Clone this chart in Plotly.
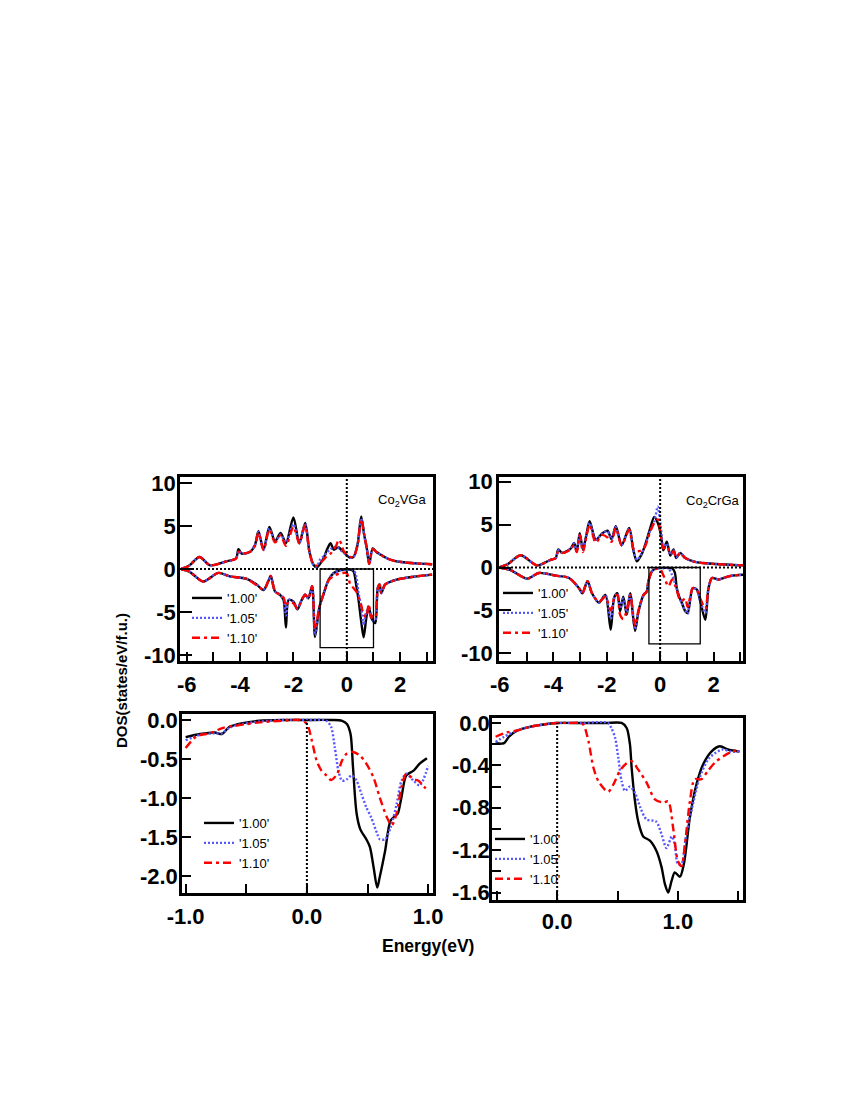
import plotly.graph_objects as go

# ---------------- data ----------------
series_names = ["'1.00'", "'1.05'", "'1.10'"]

# Co2VGa (top-left) spin up
tl_up_x = [-6.2, -5.9, -5.52, -5.12, -4.5, -4.15, -4.06, -3.94, -3.62, -3.44, -3.31, -3.12, -2.9, -2.69,
           -2.48, -2.28, -2.0, -1.78, -1.56, -1.4, -1.25, -1.12, -1.0, -0.86, -0.75, -0.61, -0.49, -0.4,
           -0.3, -0.2, -0.12, 0.0, 0.13, 0.25, 0.4, 0.54, 0.65, 0.75, 0.84, 0.97, 1.1, 1.25, 1.5, 1.75,
           2.2, 2.6, 3.2]
tl_up_100 = [0.0, 0.4, 1.4, 0.43, 0.9, 1.25, 2.3, 1.8, 2.0, 2.8, 4.4, 2.25, 4.9, 3.2,
             4.2, 3.0, 6.0, 3.0, 5.35, 2.0, 0.5, 0.2, 0.6, 1.3, 2.2, 3.0, 2.25, 2.4,
             2.5, 2.2, 2.0, 1.6, 1.3, 1.4, 2.8, 6.1, 4.0, 2.4, 0.58, 2.4, 2.0, 1.7, 1.25, 0.97,
             0.75, 0.65, 0.55]
tl_up_105 = [0.0, 0.4, 1.4, 0.43, 0.9, 1.2, 2.1, 1.8, 2.0, 2.8, 4.3, 2.25, 4.7, 3.2,
             4.0, 3.1, 5.2, 3.0, 5.3, 2.0, 0.5, 0.3, 1.1, 1.5, 1.9, 2.3, 2.5, 2.6,
             2.4, 2.1, 1.9, 1.6, 1.3, 1.4, 2.8, 5.9, 4.0, 2.4, 0.6, 2.3, 2.0, 1.7, 1.25, 0.97,
             0.75, 0.65, 0.55]
tl_up_110 = [0.0, 0.4, 1.4, 0.43, 0.9, 1.2, 2.0, 1.8, 2.0, 2.7, 4.2, 2.2, 4.6, 3.1,
             3.9, 2.7, 4.9, 3.0, 5.1, 2.0, 0.5, 0.4, 0.7, 1.1, 1.5, 1.8, 2.25, 2.7,
             3.4, 2.9, 2.1, 1.7, 1.4, 1.4, 2.7, 5.8, 4.0, 2.4, 0.6, 2.3, 2.0, 1.7, 1.25, 0.97,
             0.75, 0.65, 0.55]

# Co2VGa (top-left) spin down
tl_dn_x = [-6.2, -5.9, -5.38, -4.81, -4.38, -3.75, -3.38, -3.12, -2.94, -2.85, -2.69, -2.5, -2.37, -2.28,
           -2.18, -2.0, -1.85, -1.69, -1.56, -1.44, -1.3, -1.19, -1.03, -0.86, -0.68, -0.49, -0.24, 0.0,
           0.13, 0.25, 0.35, 0.44, 0.54, 0.63, 0.73, 0.82, 0.92, 1.0, 1.07, 1.16, 1.23, 1.29, 1.44, 1.87,
           2.5, 3.2]
tl_dn_100 = [-0.05, -0.3, -1.45, -0.45, -0.85, -1.15, -1.8, -2.45, -1.4, -0.8, -2.6, -3.0, -3.6, -6.8,
             -3.6, -3.8, -4.7, -3.6, -3.0, -3.4, -2.0, -7.9, -4.5, -2.8, -1.25, -0.47, -0.12, -0.05,
             -0.08, -0.27, -1.8, -3.6, -6.1, -7.95, -5.7, -4.35, -5.7, -6.1, -6.3, -2.2, -1.8, -2.8, -1.8, -1.24,
             -0.9, -0.65]
tl_dn_105 = [-0.05, -0.3, -1.45, -0.45, -0.85, -1.15, -1.8, -2.4, -1.4, -0.8, -2.6, -3.0, -3.5, -5.4,
             -3.6, -3.8, -4.6, -3.6, -3.0, -3.4, -2.0, -7.7, -4.5, -2.8, -1.25, -0.5, -0.15, -0.05,
             -0.08, -0.1, -0.8, -2.8, -4.4, -6.5, -5.0, -4.6, -5.7, -6.0, -6.0, -2.2, -1.8, -2.8, -1.8, -1.24,
             -0.9, -0.65]
tl_dn_110 = [-0.05, -0.3, -1.45, -0.45, -0.85, -1.15, -1.9, -2.4, -1.4, -0.8, -2.6, -3.0, -3.3, -4.3,
             -3.8, -4.0, -4.6, -3.6, -3.0, -3.4, -2.0, -7.0, -4.5, -2.8, -1.3, -0.8, -0.5, -0.5,
             -1.8, -2.2, -2.6, -3.2, -4.2, -5.3, -5.6, -4.1, -5.7, -5.3, -5.5, -2.3, -1.8, -2.8, -1.8, -1.24,
             -0.9, -0.65]

# Co2CrGa (top-right) spin up
tr_up_x = [-6.03, -5.7, -5.22, -4.6, -4.1, -3.91, -3.81, -3.66, -3.35, -3.22, -3.12, -3.01, -2.89, -2.76,
           -2.64, -2.41, -2.16, -1.97, -1.82, -1.66, -1.44, -1.16, -1.0, -0.87, -0.7, -0.56, -0.37, -0.22,
           -0.09, 0.03, 0.12, 0.25, 0.38, 0.5, 0.6, 0.75, 0.94, 1.31, 2.06, 3.1]
tr_up_100 = [0.0, 0.4, 1.42, 0.25, 0.9, 1.1, 2.1, 1.7, 2.2, 2.85, 1.9, 4.0, 2.1, 3.8,
             5.4, 3.25, 4.0, 4.3, 3.3, 4.8, 2.6, 4.6, 2.0, 0.72, 1.5, 2.66, 4.6, 5.9,
             5.2, 3.8, 2.0, 3.0, 1.4, 2.1, 1.1, 1.7, 1.1, 0.65, 0.41, 0.25]
tr_up_105 = [0.0, 0.4, 1.42, 0.25, 0.9, 1.1, 2.0, 1.7, 2.2, 2.8, 1.9, 3.9, 2.1, 3.8,
             5.2, 3.25, 4.0, 4.2, 3.3, 4.7, 2.6, 4.5, 2.0, 0.9, 1.6, 2.6, 4.3, 5.3,
             7.1, 4.5, 2.3, 2.8, 1.5, 2.0, 1.2, 1.7, 1.1, 0.65, 0.41, 0.25]
tr_up_110 = [0.0, 0.4, 1.42, 0.25, 0.9, 1.1, 1.9, 1.7, 2.1, 2.6, 1.8, 3.8, 1.8, 3.6,
             5.0, 2.9, 3.8, 3.5, 3.0, 4.6, 2.6, 4.4, 2.2, 1.9, 2.0, 2.5, 4.2, 5.2,
             5.6, 3.6, 2.2, 2.5, 1.6, 1.9, 1.2, 1.7, 1.1, 0.65, 0.41, 0.25]

# Co2CrGa (top-right) spin down
tr_dn_x = [-6.03, -5.6, -4.97, -4.54, -3.91, -3.41, -3.04, -2.91, -2.72, -2.55, -2.29, -2.05, -1.85, -1.72,
           -1.6, -1.5, -1.38, -1.25, -1.12, -0.94, -0.81, -0.62, -0.5, -0.44, -0.31, -0.15, 0.0, 0.12,
           0.31, 0.45, 0.55, 0.62, 0.7, 0.81, 0.94, 1.03, 1.22, 1.38, 1.5, 1.69, 1.81, 1.94, 2.19, 2.6, 3.1]
tr_dn_100 = [0.0, -0.3, -1.3, -0.64, -0.95, -1.22, -2.4, -3.0, -1.6, -3.0, -4.1, -3.2, -7.25, -3.5,
             -3.0, -5.1, -3.4, -5.5, -3.0, -7.4, -5.1, -3.2, -2.8, -1.6, -0.45, -0.1, -0.05, -0.05,
             -0.05, -0.1, -0.6, -2.4, -3.3, -4.1, -5.1, -5.3, -2.4, -2.6, -3.9, -6.1, -2.4, -1.22, -1.4, -1.0, -0.85]
tr_dn_105 = [0.0, -0.3, -1.3, -0.64, -0.95, -1.22, -2.4, -3.0, -1.6, -3.0, -4.1, -3.2, -6.0, -3.5,
             -3.0, -4.8, -3.6, -5.2, -3.0, -7.2, -5.1, -3.2, -2.8, -1.6, -0.45, -0.1, -0.05, -0.05,
             -0.1, -0.9, -1.8, -2.5, -3.3, -4.2, -5.0, -5.4, -2.4, -2.6, -3.9, -5.3, -2.4, -1.22, -1.4, -1.0, -0.85]
tr_dn_110 = [0.0, -0.3, -1.3, -0.64, -0.95, -1.22, -2.4, -3.0, -1.6, -3.0, -4.0, -3.4, -5.0, -3.6,
             -3.2, -5.5, -6.0, -5.0, -3.2, -6.8, -5.0, -3.2, -2.8, -1.6, -0.5, -0.15, -0.2, -0.9,
             -2.2, -1.4, -2.0, -2.6, -3.5, -3.9, -3.6, -4.6, -2.4, -2.7, -3.6, -4.8, -2.4, -1.22, -1.4, -1.0, -0.85]

# Co2VGa zoom (bottom-left)
bl_x_100 = [-1.0, -0.88, -0.76, -0.7, -0.64, -0.53, -0.39, -0.2, 0.0, 0.2, 0.29, 0.33, 0.36, 0.38, 0.41,
            0.44, 0.49, 0.52, 0.55, 0.58, 0.6, 0.645, 0.69, 0.73, 0.75, 0.78, 0.82, 0.88, 0.93, 0.99]
bl_y_100 = [-0.22, -0.18, -0.16, -0.18, -0.09, -0.04, -0.01, 0.0, 0.0, 0.0, -0.01, -0.05, -0.18, -0.6, -1.2,
            -1.4, -1.53, -1.63, -1.89, -2.15, -2.02, -1.68, -1.29, -1.23, -1.2, -0.99, -0.71, -0.65, -0.56, -0.49]
bl_x_105 = [-1.0, -0.88, -0.76, -0.7, -0.64, -0.53, -0.39, -0.2, 0.0, 0.16, 0.2, 0.23, 0.26, 0.29, 0.33,
            0.37, 0.41, 0.45, 0.49, 0.53, 0.58, 0.6, 0.645, 0.69, 0.74, 0.78, 0.82, 0.88, 0.93, 1.0]
bl_y_105 = [-0.26, -0.19, -0.17, -0.17, -0.1, -0.05, -0.02, 0.0, 0.0, -0.01, -0.09, -0.35, -0.65, -0.78, -0.76,
            -0.71, -0.78, -0.95, -1.12, -1.25, -1.46, -1.53, -1.53, -1.38, -1.08, -0.78, -0.69, -0.78, -0.84, -0.59]
bl_x_110 = [-1.0, -0.91, -0.8, -0.69, -0.53, -0.39, -0.2, -0.06, 0.0, 0.04, 0.08, 0.12, 0.16, 0.2, 0.25,
            0.29, 0.33, 0.38, 0.44, 0.49, 0.55, 0.6, 0.66, 0.7, 0.74, 0.78, 0.82, 0.88, 0.92, 0.98]
bl_y_110 = [-0.36, -0.21, -0.17, -0.1, -0.06, -0.03, -0.01, 0.0, -0.05, -0.26, -0.52, -0.65, -0.71, -0.77, -0.69,
            -0.52, -0.43, -0.41, -0.46, -0.56, -0.74, -0.99, -1.25, -1.35, -1.2, -0.86, -0.69, -0.76, -0.78, -0.88]

# Co2CrGa zoom (bottom-right)
br_x_100 = [-0.51, -0.44, -0.4, -0.33, -0.22, -0.085, 0.0, 0.2, 0.4, 0.534, 0.576, 0.603, 0.617, 0.645,
            0.672, 0.713, 0.769, 0.824, 0.865, 0.893, 0.92, 0.948, 0.975, 1.017, 1.05, 1.1, 1.154, 1.21,
            1.278, 1.347, 1.416, 1.46, 1.512]
br_y_100 = [-0.19, -0.19, -0.13, -0.07, -0.035, -0.01, 0.0, 0.0, 0.0, 0.0, -0.047, -0.2, -0.42, -0.74,
            -0.93, -1.07, -1.11, -1.21, -1.36, -1.52, -1.6, -1.49, -1.41, -1.45, -1.33, -0.89, -0.58, -0.39,
            -0.27, -0.22, -0.25, -0.26, -0.27]
br_x_105 = [-0.51, -0.44, -0.33, -0.22, -0.085, 0.0, 0.2, 0.42, 0.45, 0.48, 0.507, 0.534, 0.562, 0.603,
            0.645, 0.69, 0.74, 0.82, 0.865, 0.906, 0.95, 0.975, 1.0, 1.03, 1.07, 1.13, 1.18, 1.26, 1.37,
            1.44, 1.51]
br_y_105 = [-0.18, -0.13, -0.07, -0.035, -0.01, 0.0, 0.0, 0.0, -0.05, -0.14, -0.33, -0.55, -0.64, -0.6,
            -0.66, -0.8, -0.91, -0.93, -1.05, -1.18, -1.07, -1.15, -1.33, -1.33, -1.05, -0.74, -0.52, -0.33, -0.25,
            -0.27, -0.27]
br_x_110 = [-0.51, -0.42, -0.33, -0.22, -0.085, 0.0, 0.1, 0.19, 0.218, 0.259, 0.3, 0.342, 0.397, 0.424,
            0.466, 0.52, 0.576, 0.617, 0.672, 0.74, 0.81, 0.879, 0.92, 0.961, 1.0, 1.03, 1.058, 1.1, 1.14,
            1.196, 1.25, 1.32, 1.43, 1.51]
br_y_110 = [-0.13, -0.09, -0.07, -0.035, -0.01, 0.0, 0.0, 0.0, -0.016, -0.17, -0.42, -0.55, -0.63, -0.65,
            -0.58, -0.45, -0.38, -0.36, -0.44, -0.56, -0.72, -0.75, -0.74, -0.99, -1.3, -1.35, -1.15, -0.74, -0.53,
            -0.53, -0.45, -0.36, -0.28, -0.25]

# tick labels
top_xticks = [-6, -4, -2, 0, 2]
top_xticktext = ["-6", "-4", "-2", "0", "2"]
top_yticks = [10, 5, 0, -5, -10]
top_yticktext = ["10", "5", "0", "-5", "-10"]
bl_xticks = [-1.0, 0.0, 1.0]
bl_xticktext = ["-1.0", "0.0", "1.0"]
bl_yticks = [0.0, -0.5, -1.0, -1.5, -2.0]
bl_yticktext = ["0.0", "-0.5", "-1.0", "-1.5", "-2.0"]
br_xticks = [0.0, 1.0]
br_xticktext = ["0.0", "1.0"]
br_yticks = [0.0, -0.4, -0.8, -1.2, -1.6]
br_yticktext = ["0.0", "-0.4", "-0.8", "-1.2", "-1.6"]

# ---------------- styles ----------------
COLORS = ["#000000", "#5858ff", "#ff0000"]
DASHES = ["solid", "2px,2px", "8px,4px,3px,4px"]
W = 2.4
FONT = "Liberation Sans"
OFF = 8            # default body margin of the html page
FW, FH = 850 - 2 * OFF, 1100 - 2 * OFF

fig = go.Figure()


def add_series(xs, ys_list, xa, ya, legend, show):
    for i, ys in enumerate(ys_list):
        fig.add_trace(go.Scatter(
            x=xs[i] if isinstance(xs[0], list) else xs, y=ys, mode="lines",
            name=series_names[i], xaxis=xa, yaxis=ya, legend=legend, showlegend=show,
            line=dict(color=COLORS[i], width=W, dash=DASHES[i], shape="spline", smoothing=0.8),
        ))


add_series(tl_up_x, [tl_up_100, tl_up_105, tl_up_110], "x", "y", "legend", True)
add_series(tl_dn_x, [tl_dn_100, tl_dn_105, tl_dn_110], "x", "y", "legend", False)
add_series(tr_up_x, [tr_up_100, tr_up_105, tr_up_110], "x2", "y2", "legend2", True)
add_series(tr_dn_x, [tr_dn_100, tr_dn_105, tr_dn_110], "x2", "y2", "legend2", False)
add_series([bl_x_100, bl_x_105, bl_x_110], [bl_y_100, bl_y_105, bl_y_110], "x3", "y3", "legend3", True)
add_series([br_x_100, br_x_105, br_x_110], [br_y_100, br_y_105, br_y_110], "x4", "y4", "legend4", True)


def px_x(p):
    return (p - OFF) / FW


def px_y(p):
    return 1 - (p - OFF) / FH


tickfont = dict(family=FONT, size=22, color="black", weight="bold")
minor_style = dict(ticks="inside", ticklen=9, tickwidth=2, tickcolor="black")


def axis_common(**kw):
    d = dict(showline=True, linecolor="black", linewidth=2.5, mirror=True, ticks="inside",
             tickwidth=2, tickcolor="black", ticklen=9, showgrid=False, zeroline=False,
             tickfont=tickfont, tickmode="array", automargin=False)
    d.update(kw)
    return d


layout = dict(
    width=FW, height=FH, margin=dict(l=0, r=0, t=0, b=0, autoexpand=False),
    paper_bgcolor="white", plot_bgcolor="white", showlegend=True,
    xaxis=axis_common(domain=[px_x(180), px_x(433)], range=[-6.25, 3.23], anchor="y",
                      tickvals=top_xticks, ticktext=top_xticktext, ticklabelstandoff=2,
                      minor=dict(tickvals=[-5, -3, -1, 1, 3], **minor_style)),
    yaxis=axis_common(domain=[px_y(661), px_y(477)], range=[-10.7, 10.7], anchor="x",
                      tickvals=top_yticks, ticktext=top_yticktext, ticklabelstandoff=-3, ticklen=12),
    xaxis2=axis_common(domain=[px_x(499), px_x(743)], range=[-6.03, 3.1], anchor="y2",
                       tickvals=top_xticks, ticktext=top_xticktext, ticklabelstandoff=2,
                       minor=dict(tickvals=[-5, -3, -1, 1, 3], **minor_style)),
    yaxis2=axis_common(domain=[px_y(661), px_y(477)], range=[-10.9, 10.55], anchor="x2",
                       tickvals=top_yticks, ticktext=top_yticktext, ticklabelstandoff=-1, ticklen=12),
    xaxis3=axis_common(domain=[px_x(182), px_x(433)], range=[-1.03, 1.04], anchor="y3",
                       tickvals=bl_xticks, ticktext=bl_xticktext, ticklabelstandoff=2,
                       minor=dict(tickvals=[-0.5, 0.5], **minor_style)),
    yaxis3=axis_common(domain=[px_y(893), px_y(714)], range=[-2.22, 0.077], anchor="x3",
                       tickvals=bl_yticks, ticktext=bl_yticktext, ticklabelstandoff=-3),
    xaxis4=axis_common(domain=[px_x(492), px_x(743)], range=[-0.54, 1.54], anchor="y4",
                       tickvals=br_xticks, ticktext=br_xticktext, ticklabelstandoff=0,
                       minor=dict(tickvals=[-0.5, 0.5, 1.5], **minor_style)),
    yaxis4=axis_common(domain=[px_y(900), px_y(718)], range=[-1.67, 0.047], anchor="x4",
                       tickvals=br_yticks, ticktext=br_yticktext, ticklabelstandoff=-5,
                       minor=dict(tickvals=[-0.2, -0.6, -1.0, -1.4], **minor_style)),
)

leg_common = dict(bgcolor="rgba(0,0,0,0)", borderwidth=0, font=dict(family=FONT, size=13, color="black"),
                  xanchor="left", yanchor="top", itemwidth=30, tracegroupgap=0,
                  xref="container", yref="container")
layout["legend"] = dict(x=px_x(187), y=px_y(583), **leg_common)
layout["legend2"] = dict(x=px_x(498), y=px_y(578), **leg_common)
layout["legend3"] = dict(x=px_x(199), y=px_y(808), **leg_common)
layout["legend4"] = dict(x=px_x(490), y=px_y(824), **leg_common)

fig.update_layout(**layout)

# reference lines / boxes
dot = dict(color="black", width=2, dash="2px,2px")
shapes = [
    dict(type="line", xref="x", yref="y", x0=-6.25, x1=3.23, y0=0, y1=0, line=dot),
    dict(type="line", xref="x", yref="y", x0=0, x1=0, y0=-10.7, y1=10.7, line=dot),
    dict(type="rect", xref="x", yref="y", x0=-1.0, x1=1.0, y0=0, y1=-9.15, line=dict(color="black", width=1.3)),
    dict(type="line", xref="x2", yref="y2", x0=-6.03, x1=3.1, y0=0, y1=0, line=dot),
    dict(type="line", xref="x2", yref="y2", x0=0, x1=0, y0=-10.9, y1=10.55, line=dot),
    dict(type="rect", xref="x2", yref="y2", x0=-0.42, x1=1.5, y0=0, y1=-8.9, line=dict(color="black", width=1.3)),
    dict(type="line", xref="x3", yref="y3", x0=0, x1=0, y0=-2.22, y1=0, line=dot),
    dict(type="line", xref="x4", yref="y4", x0=0, x1=0, y0=-1.67, y1=0, line=dot),
]
fig.update_layout(shapes=shapes)

ann_common = dict(xref="paper", yref="paper", xanchor="center", yanchor="middle", showarrow=False)
annotations = [
    dict(text="Co<sub>2</sub>VGa", x=px_x(402), y=px_y(500),
         font=dict(family=FONT, size=13, color="black"), **ann_common),
    dict(text="Co<sub>2</sub>CrGa", x=px_x(713), y=px_y(502),
         font=dict(family=FONT, size=13, color="black"), **ann_common),
    dict(text="DOS(states/eV/f.u.)", x=px_x(121), y=px_y(680), textangle=-90,
         font=dict(family=FONT, size=15, color="black", weight="bold"), **ann_common),
    dict(text="Energy(eV)", x=px_x(428), y=px_y(946),
         font=dict(family=FONT, size=17.5, color="black", weight="bold"), **ann_common),
]
fig.update_layout(annotations=annotations)

fig.write_html("out.html")
